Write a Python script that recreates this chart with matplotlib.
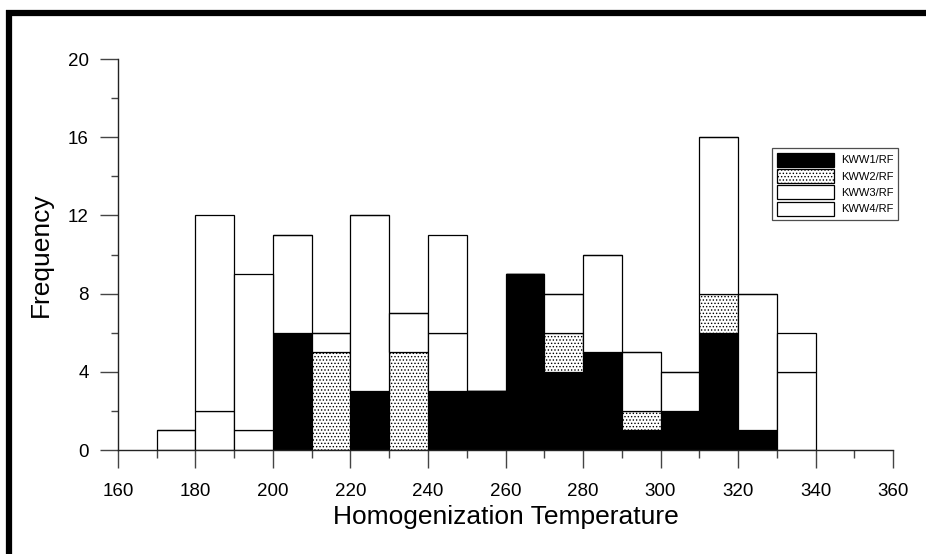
import matplotlib
matplotlib.use('Agg')
import matplotlib.pyplot as plt
from matplotlib.lines import Line2D
import numpy as np

# bin left edges (width 10)
bin_edges = [170, 180, 190, 200, 210, 220, 230, 240, 250,
             260, 270, 280, 290, 300, 310, 320, 330]
kww1 = [0, 0, 0, 6, 0, 3, 0, 3, 3, 9, 4, 5, 1, 2, 6, 1, 0]
kww2 = [0, 0, 0, 0, 5, 0, 5, 0, 0, 0, 2, 0, 1, 0, 2, 0, 0]
kww3 = [1, 2, 1, 5, 1, 9, 2, 3, 0, 0, 2, 5, 3, 2, 8, 7, 4]
kww4 = [0, 10, 8, 0, 0, 0, 0, 5, 0, 0, 0, 0, 0, 0, 0, 0, 2]
series_names = ['KWW1/RF', 'KWW2/RF', 'KWW3/RF', 'KWW4/RF']

plt.rcParams['font.family'] = ['Liberation Sans', 'DejaVu Sans']
plt.rcParams['hatch.linewidth'] = 0.6

fig = plt.figure(figsize=(9.26, 5.54), dpi=100)
ax = fig.add_axes([0.1274, 0.1877, 0.837, 0.7058])

styles = [dict(facecolor='black', hatch=None),
          dict(facecolor='white', hatch='.....'),
          dict(facecolor='white', hatch=None),
          dict(facecolor='white', hatch=None)]

bottom = np.zeros(len(bin_edges))
for vals, name, st in zip([kww1, kww2, kww3, kww4], series_names, styles):
    vals = np.array(vals, dtype=float)
    ax.bar(bin_edges, vals, width=10, bottom=bottom, align='edge',
           facecolor=st['facecolor'], edgecolor='black', linewidth=0.9,
           hatch=st['hatch'], label=name)
    bottom += vals

ax.set_xlim(160, 360)
ax.set_ylim(0, 20)
ax.set_xticks(np.arange(160, 361, 20))
ax.set_xticks(np.arange(170, 360, 20), minor=True)
ax.set_yticks(np.arange(0, 21, 4))
ax.set_yticks(np.arange(2, 20, 4), minor=True)

for s in ['top', 'right']:
    ax.spines[s].set_visible(False)
for s in ['left', 'bottom']:
    ax.spines[s].set_linewidth(1.0)
    ax.spines[s].set_color('#222222')

ax.tick_params(which='major', direction='out', length=13, width=1.0,
               color='#444444', labelsize=13.5, pad=8)
ax.tick_params(which='minor', direction='out', length=6, width=1.0,
               color='#444444')
ax.tick_params(axis='y', which='minor', length=5)
ax.tick_params(axis='x', which='major', pad=11)

ax.set_xlabel('Homogenization Temperature', fontsize=19, labelpad=3)
ax.set_ylabel('Frequency', fontsize=19, labelpad=11)

leg = ax.legend(loc='upper left', bbox_to_anchor=(0.844, 0.772),
                prop={'size': 8},
                frameon=True, fancybox=False, edgecolor='#222222',
                handlelength=5.2, handleheight=1.55, labelspacing=0.22,
                handletextpad=0.6, borderpad=0.4, borderaxespad=0)
leg.get_frame().set_linewidth(0.9)

# thick border (top and left)
fig.add_artist(Line2D([9 / 926, 9 / 926], [0, 1 - 10 / 554], color='black',
                      linewidth=4.5, transform=fig.transFigure,
                      solid_capstyle='butt'))
fig.add_artist(Line2D([6 / 926, 1], [1 - 13 / 554, 1 - 13 / 554], color='black',
                      linewidth=4.5, transform=fig.transFigure,
                      solid_capstyle='butt'))

fig.savefig('out.png', dpi=100)
